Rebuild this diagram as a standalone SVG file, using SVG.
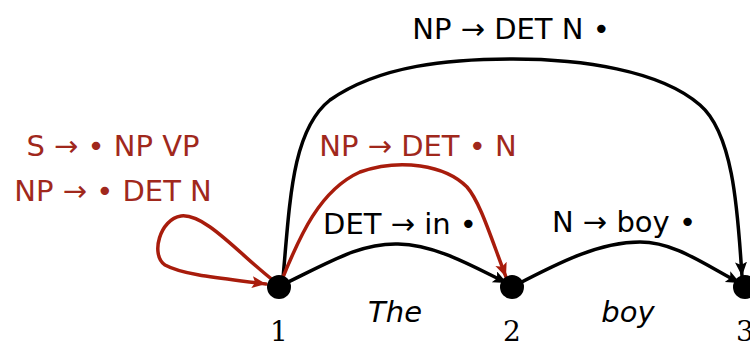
<svg xmlns="http://www.w3.org/2000/svg" width="750" height="345" viewBox="0 0 750 345">
<style>
.lbl{font-family:"DejaVu Sans",sans-serif;font-size:29px;text-anchor:middle}
.red{fill:#a0281c}
.blk{fill:#000}
.num{font-family:"DejaVu Serif",serif;font-size:28px;text-anchor:middle;fill:#000}
.word{font-family:"DejaVu Sans",sans-serif;font-size:29px;font-style:italic;text-anchor:middle;fill:#000}
.e{fill:none;stroke-width:3.5;stroke-linecap:round}
.eb{stroke:#000}
.er{stroke:#a81c0c}
</style>
<defs>
<marker id="ab" markerUnits="userSpaceOnUse" markerWidth="16" markerHeight="14" refX="14" refY="6" orient="auto"><path d="M0,0 L14,6 L0,12 L3,6 Z" fill="#000"/></marker>
<marker id="ar" markerUnits="userSpaceOnUse" markerWidth="16" markerHeight="14" refX="14" refY="6" orient="auto"><path d="M0,0 L14,6 L0,12 L3,6 Z" fill="#a81c0c"/></marker>
</defs>
<g id="connectors">
<path class="e eb" d="M283,278 C290,200 292,130 330,100 C380,65 450,59 513,59 C580,59 660,70 700,105 C735,135 738,220 742,276" marker-end="url(#ab)"/>
<path class="e eb" d="M282,285 C330,262 360,243 398,244 C436,245 470,265 507,283" marker-end="url(#ab)"/>
<path class="e eb" d="M516,285 C560,262 600,242 640,242 C675,242 705,265 740,283" marker-end="url(#ab)"/>
<path class="e er" d="M281,282 C300,235 320,190 360,172 C400,158 445,165 467,187 C480,202 490,235 506,277" marker-end="url(#ar)"/>
<path class="e er" d="M274,281 C240,255 205,213 181,216 C160,219 150,255 165,265 C185,276 230,279 266,284" marker-end="url(#ar)"/>
</g>
<g id="n1"><circle cx="279" cy="287" r="12"/><text class="num" x="279" y="341">1</text></g>
<g id="n2"><circle cx="512" cy="287" r="12"/><text class="num" x="512" y="341">2</text></g>
<g id="n3"><circle cx="745" cy="287" r="12"/><text class="num" x="745" y="341">3</text></g>
<g id="labels">
<text class="lbl blk" x="511" y="39">NP → DET N •</text>
<text class="lbl red" x="113" y="156">S → • NP VP</text>
<text class="lbl red" x="113" y="201">NP → • DET N</text>
<text class="lbl red" x="418" y="156">NP → DET • N</text>
<text class="lbl blk" x="400" y="234">DET → in •</text>
<text class="lbl blk" x="624" y="232">N → boy •</text>
<text class="word" x="395" y="322">The</text>
<text class="word" x="628" y="322">boy</text>
</g>
</svg>
